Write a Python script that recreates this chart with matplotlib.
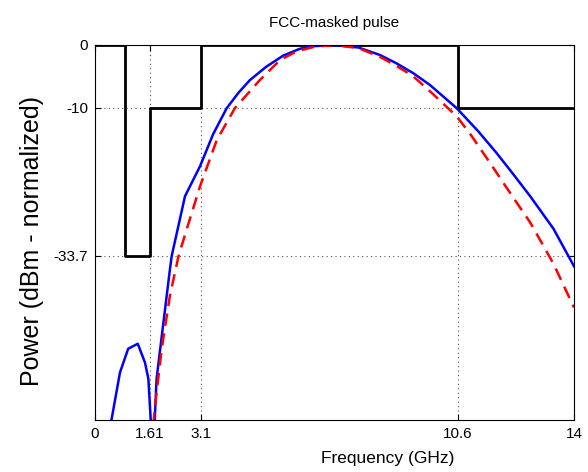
import matplotlib
matplotlib.use("Agg")
import matplotlib.pyplot as plt

plt.rcParams['font.family'] = ['Liberation Sans', 'DejaVu Sans']

# FCC mask (normalized)
mask_freq = [0, 0.87, 0.87, 1.61, 1.61, 3.1, 3.1, 10.6, 10.6, 14]
mask_power = [0, 0, -33.7, -33.7, -10, -10, 0, 0, -10, -10]

# Blue (solid) pulse spectrum
blue_freq = [0.35, 0.73, 0.97, 1.25, 1.46, 1.56, 1.66, 1.72, 1.80, 2.00, 2.19, 2.24,
             2.63, 3.07, 3.45, 3.85, 4.20, 4.53, 5.00, 5.50, 5.99, 6.37, 7.00,
             7.70, 8.33, 8.80, 9.30, 9.79, 10.57, 11.20, 11.74, 12.20, 12.72, 13.40, 14.0]
blue_power = [-64, -52.4, -48.6, -47.8, -50.8, -53.4, -63, -63, -53.4, -44.4, -35.9, -33.8,
              -24.2, -19.4, -14.3, -10.1, -7.6, -5.6, -3.5, -1.7, -0.6, -0.2, 0,
              -0.4, -1.6, -2.9, -4.5, -6.4, -10.1, -13.8, -17.3, -20.5, -24.2, -29.4, -35.4]

# Red (dashed) pulse spectrum
red_freq = [1.65, 1.75, 1.95, 2.19, 2.44, 2.68, 3.07, 3.56, 4.09, 4.82, 5.41, 5.90,
            6.40, 7.00, 7.70, 8.33, 8.80, 9.30, 9.79, 10.57, 11.00, 11.55, 12.10,
            12.72, 13.40, 14.0]
red_power = [-64, -58, -48.6, -40.1, -33.8, -29.5, -22.6, -15.2, -10.1, -5.6, -2.4, -1.0,
             -0.3, 0, -0.5, -1.9, -3.3, -5.0, -7.4, -11.4, -14.5, -18.9, -23.4,
             -28.4, -35.0, -42.0]

xticks = [0, 1.61, 3.1, 10.6, 14]
xticklabels = ['0', '1.61', '3.1', '10.6', '14']
yticks = [-33.7, -10, 0]
yticklabels = ['-33.7', '-10', '0']

fig = plt.figure(figsize=(5.88, 4.72), dpi=100)
ax = fig.add_axes([95/588, 1-420/472, (574-95)/588, (420-45)/472])

ax.plot(mask_freq, mask_power, color='black', lw=2)
ax.plot(blue_freq, blue_power, color='blue', lw=1.8)
ax.plot(red_freq, red_power, color='red', lw=1.8, ls=(0, (5, 3)))

ax.set_xlim(0, 14)
ax.set_ylim(-60, 0)
ax.set_xticks(xticks)
ax.set_xticklabels(xticklabels)
ax.set_yticks(yticks)
ax.set_yticklabels(yticklabels)
ax.tick_params(direction='in', length=4, top=True, right=True, labelsize=11, width=0.8)
ax.tick_params(axis='x', pad=5)
ax.tick_params(axis='y', pad=5)
ax.grid(True, ls=(0, (1, 3)), color='#555555', lw=0.8)
for s in ax.spines.values():
    s.set_linewidth(0.8)

ax.set_title('FCC-masked pulse', fontsize=11, pad=13)
ax.set_xlabel('Frequency (GHz)', fontsize=12.5)
ax.xaxis.label.set(va='center', ha='center')
ax.xaxis.set_label_coords((388-95)/479, -(459-420)/375)
ax.set_ylabel('Power (dBm - normalized)', fontsize=18)
ax.yaxis.label.set(va='center', ha='center', rotation_mode='anchor')
ax.yaxis.set_label_coords((32-95)/479, 1-(241-45)/375)

fig.savefig('out.png', dpi=100)
